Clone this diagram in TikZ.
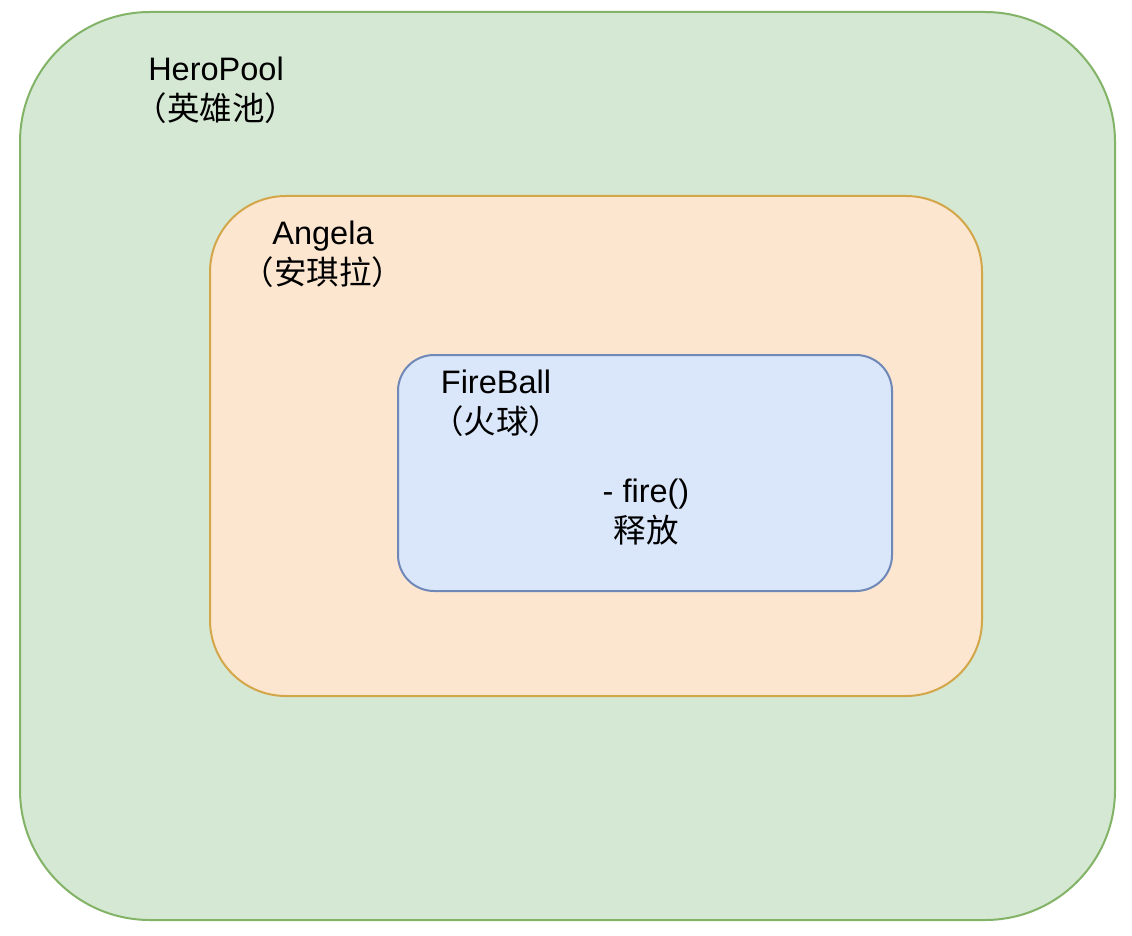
\documentclass[tikz,border=0pt]{standalone}
\usepackage{fontspec}
\setmainfont{Liberation Sans}
\newfontfamily\cjk{Noto Sans CJK SC}
\definecolor{gfill}{HTML}{D5E8D4}
\definecolor{gline}{HTML}{82B366}
\definecolor{ofill}{HTML}{FCE6D0}
\definecolor{oline}{HTML}{D4A64A}
\definecolor{bfill}{HTML}{DAE6F9}
\definecolor{bline}{HTML}{7088B8}
\begin{document}
\begin{tikzpicture}[x=1pt,y=-1pt,
  box/.style={draw, line width=2pt, inner sep=0pt, outer sep=0pt},
  lbl/.style={align=center, inner sep=0pt, anchor=base, font=\fontsize{32.5}{40}\selectfont}]
\useasboundingbox[fill=white] (0,0) rectangle (1132,936);
\node[box, draw=gline, fill=gfill, rounded corners=130pt, minimum width=1095pt, minimum height=908pt] (pool) at (567.5,466) {};
\node[box, draw=oline, fill=ofill, rounded corners=76pt, minimum width=772pt, minimum height=500pt] (angela) at (596,446) {};
\node[box, draw=bline, fill=bfill, rounded corners=36pt, minimum width=494pt, minimum height=236pt] (fireball) at (645,473) {};
\node[lbl] (poolt) at (216,121) {HeroPool\\{\cjk （英雄池）}};
\node[lbl] (angelat) at (323,284) {Angela\\{\cjk （安琪拉）}};
\node[lbl] (fireballt) at (496,433) {FireBall\\{\cjk （火球）}};
\node[lbl] (firet) at (646,542) {- fire()\\{\cjk 释放}};
\end{tikzpicture}
\end{document}
